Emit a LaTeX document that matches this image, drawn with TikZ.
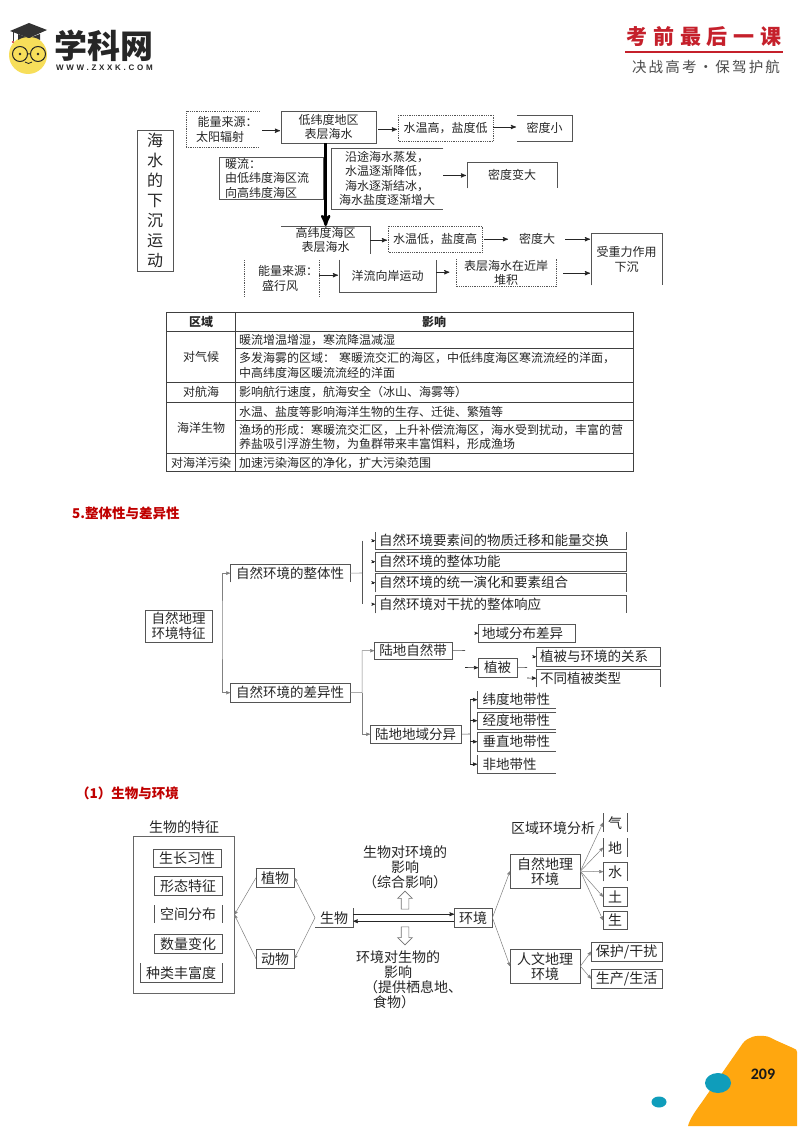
\documentclass[tikz,border=0pt]{standalone}
\usepackage{fontspec}
\setmainfont{Noto Sans CJK SC}
\newfontfamily\logofont[LetterSpace=34]{Liberation Sans}
\newfontfamily\redfont[LetterSpace=28]{Noto Sans CJK SC}
\newfontfamily\sloganfont[LetterSpace=15]{Noto Sans CJK SC}
\newfontfamily\pagefont{Carlito}
\usepackage{tikz}
\usetikzlibrary{shapes,shapes.arrows,arrows,positioning,calc}
\definecolor{inkcol}{HTML}{262626}
\definecolor{edgecol}{HTML}{555555}
\definecolor{redcol}{HTML}{C5202B}
\definecolor{headcol}{HTML}{C00000}
\definecolor{orangecol}{HTML}{FFA70F}
\definecolor{bluecol}{HTML}{0F9DBB}
\definecolor{facecol}{HTML}{F7DE5A}
\tikzset{
	cell/.style 2 args = {
		minimum width=#1,
		minimum height=#2,
		anchor=north west,
		inner sep=0pt,
		align=center,
		text=inkcol
	},
	edge/.style = {
		draw=edgecol,
		line width=0.8pt
	},
	dotedge/.style = {
		draw=edgecol,
		line width=0.8pt,
		densely dotted
	},
	signal/.style = {
		->,
		>=stealth',
		draw=black!85,
		line width=0.9pt,
		shorten >=1pt
	},
	link/.style = {
		->,
		>=stealth',
		draw=black!50,
		line width=0.5pt
	},
	plainlink/.style = {
		draw=black!45,
		line width=0.6pt
	},
	hollow/.style = {
		draw=black!55,
		fill=white,
		single arrow,
		minimum height=18pt,
		minimum width=14pt,
		single arrow head extend=3.5pt,
		inner sep=3.5pt,
		line width=0.6pt
	},
	tcell/.style = {
		anchor=west,
		inner sep=0pt,
		text=inkcol,
		font=\fontsize{12}{14}\selectfont
	},
	tlabel/.style = {
		inner sep=0pt,
		text=inkcol,
		font=\fontsize{12}{14}\selectfont
	},
	heading/.style = {
		anchor=west,
		inner sep=0pt,
		text=headcol,
		font=\fontsize{13.5}{15}\selectfont\bfseries
	},
	fonta/.style = {font=\fontsize{12}{14.5}\selectfont},
	fontb/.style = {font=\fontsize{13.5}{15}\selectfont},
	fontc/.style = {font=\fontsize{14}{15}\selectfont}
}
% boxes with one side (or two) left out
\newcommand{\opnbot}[2][edge]{\draw[#1] (#2.south west) |- (#2.north east) -- (#2.south east);}
\newcommand{\opntop}[2][edge]{\draw[#1] (#2.north west) |- (#2.south east) -- (#2.north east);}
\newcommand{\opnrgt}[2][edge]{\draw[#1] (#2.north east) -| (#2.south west) -- (#2.south east);}
\newcommand{\opnlft}[2][edge]{\draw[#1] (#2.north west) -| (#2.south east) -- (#2.south west);}
\newcommand{\sidesonly}[2][edge]{\draw[#1] (#2.north west) -- (#2.south west) (#2.north east) -- (#2.south east);}
\newcommand{\fullbox}[2][edge]{\draw[#1] (#2.north west) rectangle (#2.south east);}
\begin{document}
\begin{tikzpicture}[x=1pt, y=-1pt]
	\useasboundingbox (0,0) rectangle (800,1132);
	\fill[white] (0,0) rectangle (800,1132);

	% --- Cabecera ---
	\fill[facecol] (28,55) circle (19);
	\fill[black!80] (10,31) -- (29,23) -- (47,30) -- (29,38) -- cycle;
	\fill[black!80] (18,34) -- (18,40) .. controls (24,36) and (34,36) .. (40,40) -- (40,34) -- (29,38) -- cycle;
	\draw[black!80, line width=0.8pt] (13,31) -- (13,41);
	\fill[redcol] (13,42) circle (1.2);
	\draw[black!85, line width=1pt] (20,54) circle (7.5) (38,54) circle (7.5) (27.5,54) -- (30.5,54);
	\fill[black!85] (20,54) circle (1.4) (38,54) circle (1.4);
	\draw[black!85, line width=0.8pt] (25,62) .. controls (27,64) and (30,64) .. (32,62);
	\node[inner sep=0pt, font=\fontsize{33}{33}\selectfont\bfseries, text=black!85] (logoname) at (104,46) {学科网};
	\node[inner sep=0pt, font=\logofont\fontsize{8}{8}\selectfont\bfseries, text=black!85] (logourl) at (104.5,68) {WWW.ZXXK.COM};
	\node[inner sep=0pt, font=\redfont\fontsize{21}{21}\selectfont\bfseries, text=redcol] (headred) at (704,37) {考前最后一课};
	\coordinate (headl) at (625,52);
	\coordinate (headr) at (783,52);
	\draw[redcol, line width=1.4pt] (headl) -- (headr);
	\node[inner sep=0pt, font=\sloganfont\fontsize{14.5}{15}\selectfont, text=black!70] (headgray) at (706,67) {决战高考·保驾护航};

	% --- Hundimiento del agua ---
	\node[cell={36pt}{141pt}, font=\fontsize{16}{20}\selectfont] (sink) at (137,130) {海\\水\\的\\下\\沉\\运\\动};
	\fullbox{sink}
	\node[cell={73pt}{36pt}, fonta, text width=68pt, align=left] (solar) at (186,111) {\hspace*{9pt}能量来源：\\\hspace*{7.5pt}太阳辐射};
	\opnrgt[dotedge]{solar}
	\node[cell={95pt}{32pt}, fonta] (lowlat) at (281,111) {低纬度地区\\表层海水};
	\fullbox{lowlat}
	\node[cell={95pt}{26pt}, fonta] (warm) at (398,115) {水温高，盐度低};
	\fullbox[dotedge]{warm}
	\node[cell={55pt}{26pt}, fonta] (lowdens) at (517,115) {密度小};
	\draw[edge] (lowdens.north west) -- (lowdens.north east) -- (lowdens.south east) -- (lowdens.south west);
	\draw[signal] (solar.east) ++(3,1.5) coordinate (solarout) -- (solarout -| lowlat.west);
	\draw[signal] (lowlat.east) ++(2,2.2) coordinate (lowout) -- (lowout -| warm.west);
	\draw[signal] (warm.east) ++(0,-1.2) coordinate (warmout) -- (warmout -| lowdens.west);

	\node[cell={103.5pt}{42pt}, fonta, text width=91.5pt, align=left] (current) at (219,157) {暖流：\\由低纬度海区流\\向高纬度海区};
	\fullbox{current}
	\node[cell={112pt}{60.5pt}, fonta] (evap) at (331,148) {沿途海水蒸发，\\水温逐渐降低，\\海水逐渐结冰，\\海水盐度逐渐增大};
	\opnrgt{evap}
	\node[cell={90pt}{26pt}, fonta] (middens) at (467,162) {密度变大};
	\opnbot{middens}
	\draw[signal] (evap.east) ++(0,-3) coordinate (evapout) -- (evapout -| middens.west);

	\node[cell={89pt}{28pt}, fonta] (highlat) at (281,226) {高纬度海区\\表层海水};
	\draw[edge] (highlat.north west) -- (highlat.north east) -- (highlat.south east);
	\node[cell={94pt}{26pt}, fonta] (cold) at (388,226) {水温低，盐度高};
	\fullbox[dotedge]{cold}
	\node[cell={56pt}{26pt}, fonta] (highdens) at (509,226) {密度大};
	\node[cell={71pt}{52pt}, fonta] (gravity) at (591,233) {受重力作用\\下沉};
	\opnbot{gravity}
	\draw[line width=2.6pt, ->, >=stealth', draw=black] (lowlat.south -| highlat.north) -- (highlat.north);
	\draw[signal] (highlat.east) -- (highlat.east -| cold.west);
	\draw[signal] (cold.east) ++(2,0) coordinate (coldout) -- (coldout -| highdens.west);
	\draw[signal] (highdens.east) -- (highdens.east -| gravity.west);

	\node[cell={75pt}{36pt}, fonta, text width=68pt, align=left] (wind) at (244,260) {\hspace*{10.5pt}能量来源：\\\hspace*{14.5pt}盛行风};
	\sidesonly[dotedge]{wind}
	\node[cell={97pt}{32pt}, fonta] (ocean) at (339,259.5) {洋流向岸运动};
	\draw[edge] (ocean.north west) |- (ocean.south east) -- (ocean.north east);
	\node[cell={100pt}{27pt}, fonta] (pile) at (456,259) {表层海水在近岸\\堆积};
	\opntop[dotedge]{pile}
	\draw[signal] (wind.east) ++(0,-3) coordinate (windout) -- (windout -| ocean.west);
	\draw[signal] (ocean.east) ++(0,-3.5) coordinate (oceanout) -- ++(14,0);
	\draw[signal] (pile.east) ++(7,0.5) coordinate (pileout) -- (pileout -| gravity.west);

	% --- Tabla ---
	\draw[black!75, line width=0.7pt] (166,312) rectangle (633,471);
	\draw[black!75, line width=0.7pt] (235,312) -- (235,471);
	\foreach \rowy in {331,382,402,453}
		\draw[black!75, line width=0.7pt] (166,\rowy) -- (633,\rowy);
	\foreach \rowy in {348,420}
		\draw[black!75, line width=0.7pt] (235,\rowy) -- (633,\rowy);
	\node[tlabel, font=\fontsize{12}{14}\selectfont\bfseries] (zone) at (201,322) {区域};
	\node[tlabel, font=\fontsize{12}{14}\selectfont\bfseries] (effect) at (434,322) {影响};
	\node[tlabel] (climate) at (201,357) {对气候};
	\node[tlabel] (navi) at (201,392) {对航海};
	\node[tlabel] (marine) at (201,428) {海洋生物};
	\node[tlabel] (pollute) at (201,463) {对海洋污染};
	\node[tcell] (t1) at (239,340) {暖流增温增湿，寒流降温减湿};
	\node[tcell] (t2) at (239,358) {多发海雾的区域：\hspace{4pt}寒暖流交汇的海区，中低纬度海区寒流流经的洋面，};
	\node[tcell] (t3) at (239,373) {中高纬度海区暖流流经的洋面};
	\node[tcell] (t4) at (239,392) {影响航行速度，航海安全（冰山、海雾等）};
	\node[tcell] (t5) at (239,412) {水温、盐度等影响海洋生物的生存、迁徙、繁殖等};
	\node[tcell] (t6) at (239,430) {渔场的形成：寒暖流交汇区，上升补偿流海区，海水受到扰动，丰富的营};
	\node[tcell] (t7) at (239,444) {养盐吸引浮游生物，为鱼群带来丰富饵料，形成渔场};
	\node[tcell] (t8) at (239,463) {加速污染海区的净化，扩大污染范围};

	% --- Seccion 5 ---
	\node[heading] (head5) at (72,513) {5.整体性与差异性};
	\node[cell={67pt}{32pt}, fontb] (root) at (145,610) {自然地理\\环境特征};
	\fullbox{root}
	\node[cell={120pt}{18pt}, fontb] (whole) at (230,564) {自然环境的整体性};
	\opnbot{whole}
	\node[cell={120pt}{19pt}, fontb] (diff) at (230,683) {自然环境的差异性};
	\fullbox{diff}
	\coordinate (trunk) at (222,627);
	\draw[link, <->] (whole.west) -| (trunk) |- (diff.west);

	\node[cell={251pt}{17pt}, fontb, text width=243pt, align=left] (w1) at (375,532) {自然环境要素间的物质迁移和能量交换};
	\opntop{w1}
	\node[cell={251pt}{19pt}, fontb, text width=243pt, align=left] (w2) at (375,552) {自然环境的整体功能};
	\fullbox{w2}
	\node[cell={251pt}{19pt}, fontb, text width=243pt, align=left] (w3) at (375,573) {自然环境的统一演化和要素组合};
	\opnbot{w3}
	\node[cell={251pt}{18pt}, fontb, text width=243pt, align=left] (w4) at (375,595) {自然环境对干扰的整体响应};
	\opnbot{w4}
	\coordinate (wbus) at (362,573);
	\draw[plainlink] (whole.east) -- (wbus);
	\draw[edge, line width=0.6pt] (wbus |- w1.west) -- (wbus |- w4.west);
	\foreach \wname in {w1,w2,w3,w4}
		\draw[signal, line width=0.4pt, shorten >=0pt] ([xshift=-2pt]\wname.west) -- (\wname.west);

	\node[cell={78pt}{17pt}, fontb] (belt) at (374,642) {陆地自然带};
	\fullbox{belt}
	\node[cell={97pt}{18pt}, fontb, text width=89pt, align=left] (spread) at (478,624) {地域分布差异};
	\fullbox{spread}
	\node[cell={39pt}{19pt}, fontb] (veg) at (478,658) {植被};
	\fullbox{veg}
	\node[cell={124pt}{19pt}, fontb, text width=116pt, align=left] (vega) at (536,647) {植被与环境的关系};
	\fullbox{vega}
	\node[cell={124pt}{18pt}, fontb, text width=116pt, align=left] (vegb) at (536,669) {不同植被类型};
	\opnbot{vegb}
	\coordinate (beltout) at (465,650.5);
	\coordinate (vegin) at (465,667.5);
	\coordinate (vegout) at (527,667.5);
	\coordinate (vegbin) at (527,678);
	\draw[edge, line width=0.6pt] (belt.east) -- (beltout);
	\draw[signal, line width=0.6pt, shorten >=0pt] (vegin) -- (veg.west);
	\draw[edge, line width=0.6pt] (veg.east) -- (vegout);
	\draw[signal, line width=0.4pt, shorten >=0pt] ([xshift=-3pt]spread.west) -- (spread.west);
	\draw[signal, line width=0.4pt, shorten >=0pt] ([xshift=-3pt]vega.west) -- (vega.west);
	\draw[signal, line width=0.6pt, shorten >=0pt] (vegbin) -- (vegb.west);

	\node[cell={91pt}{18pt}, fontb] (split) at (370,725) {陆地地域分异};
	\fullbox{split}
	\coordinate (splitbus) at (362,692.5);
	\draw[link] (diff.east) -- (splitbus) |- (belt.west);
	\draw[link] (splitbus) |- (split.west);
	\node[cell={79pt}{17pt}, fontb, text width=68pt, align=left] (lat) at (477,691) {纬度地带性};
	\draw[edge] (lat.north west) |- (lat.south east);
	\node[cell={79pt}{17pt}, fontb, text width=68pt, align=left] (lon) at (477,712) {经度地带性};
	\draw[edge] (lon.north east) -| (lon.south west) -- (lon.south east);
	\node[cell={79pt}{19pt}, fontb, text width=68pt, align=left] (vert) at (477,732) {垂直地带性};
	\draw[edge] (vert.north east) -| (vert.south west) -- (vert.south east);
	\node[cell={79pt}{18pt}, fontb, text width=68pt, align=left] (azon) at (477,755) {非地带性};
	\draw[edge] (azon.north west) |- (azon.south east);
	\coordinate (latbus) at (470,734);
	\draw[edge, line width=0.6pt] (split.east) -- (latbus);
	\draw[edge, line width=0.6pt] (latbus |- lat.west) -- (latbus |- azon.west);
	\foreach \lname in {lat,lon,vert,azon}
		\draw[signal, line width=0.6pt, shorten >=0pt] (latbus |- \lname.west) -- (\lname.west);

	% --- Seccion (1) ---
	\node[heading] (head1) at (76,793) {（1）生物与环境};
	\node[inner sep=0pt, text=inkcol, fontc] (traits) at (184,827) {生物的特征};
	\node[cell={101pt}{157pt}] (traitbox) at (133,836) {};
	\draw[draw=black!60, line width=0.8pt] (traitbox.north west) rectangle (traitbox.south east);
	\node[cell={68pt}{18pt}, fontc] (habit) at (153,849) {生长习性};
	\fullbox{habit}
	\node[cell={68pt}{19pt}, fontc] (form) at (154,876) {形态特征};
	\fullbox{form}
	\node[cell={68pt}{18pt}, fontc] (space) at (154,905) {空间分布};
	\sidesonly{space}
	\node[cell={68pt}{19pt}, fontc] (count) at (154,934) {数量变化};
	\fullbox{count}
	\node[cell={82pt}{19pt}, fontc] (species) at (140,963) {种类丰富度};
	\opntop{species}
	\node[cell={38pt}{19pt}, fontc] (plant) at (256,868) {植物};
	\fullbox{plant}
	\node[cell={38pt}{19pt}, fontc] (animal) at (256,949) {动物};
	\fullbox{animal}
	\node[cell={38pt}{19pt}, fontc] (bio) at (315,908) {生物};
	\draw[edge] (bio.south west) -- (bio.south east) -- (bio.north east);
	\node[cell={38pt}{19pt}, fontc] (env) at (454,908) {环境};
	\fullbox{env}
	\draw[link] (bio.west) -- (plant.east);
	\draw[link] (bio.west) -- (animal.east);
	\draw[link] (plant.west) -- (traitbox.east);
	\draw[link] (animal.west) -- (traitbox.east);
	\draw[signal, line width=0.7pt, shorten >=0pt] ([yshift=3.5pt]bio.east) -- ([yshift=3.5pt]env.west);
	\draw[signal, line width=0.7pt, shorten >=0pt] ([yshift=-3.5pt]env.west) -- ([yshift=-3.5pt]bio.east);
	\node[inner sep=0pt, text=inkcol, fontc, align=center] (bioenv) at (405,867) {生物对环境的\\影响\\（综合影响）};
	\node[hollow, shape border rotate=90] (uparrow) at (405,902) {};
	\node[hollow, shape border rotate=270] (downarrow) at (405,934) {};
	\node[inner sep=0pt, text=inkcol, fontc, align=center] (envbio) at (398,979.5) {环境对生物的\\影响\\\hspace*{30pt}（提供栖息地、\\\hspace*{-8pt}食物）};

	\node[inner sep=0pt, text=inkcol, fontc] (region) at (553,828) {区域环境分析};
	\node[cell={70pt}{34pt}, fontc] (natenv) at (510,854) {自然地理\\环境};
	\fullbox{natenv}
	\node[cell={70pt}{34pt}, fontc] (humenv) at (510,949) {人文地理\\环境};
	\fullbox{humenv}
	\draw[link] (env.east) -- (natenv.west);
	\draw[link] (env.east) -- (humenv.west);
	\node[cell={24pt}{19pt}, fontc] (qi) at (603,813) {气};
	\sidesonly{qi}
	\node[cell={24pt}{19pt}, fontc] (di) at (603,838) {地};
	\sidesonly{di}
	\node[cell={24pt}{19pt}, fontc] (shui) at (603,862) {水};
	\opnbot{shui}
	\node[cell={24pt}{19pt}, fontc] (tu) at (603,887) {土};
	\fullbox{tu}
	\node[cell={24pt}{18pt}, fontc] (sheng) at (603,911) {生};
	\fullbox{sheng}
	\foreach \ename in {qi,di,shui,tu,sheng}
		\draw[link] (natenv.east) -- (\ename.west);
	\node[cell={71pt}{19pt}, fontc] (protect) at (591,942) {保护/干扰};
	\fullbox{protect}
	\node[cell={71pt}{19pt}, fontc] (prod) at (591,969) {生产/生活};
	\fullbox{prod}
	\draw[link] (humenv.east) -- (protect.west);
	\draw[link] (humenv.east) -- (prod.west);

	% --- Pie de pagina ---
	\fill[orangecol] (688,1126) .. controls (690,1118) and (697,1109) .. (702,1102) -- (743,1043) .. controls (748,1037) and (756,1035) .. (764,1036) .. controls (768,1036) and (771,1038) .. (775,1040) -- (793,1048) .. controls (796,1049) and (797,1050) .. (797,1052) -- (797,1126) -- cycle;
	\fill[bluecol] (718,1083) ellipse (13 and 10);
	\fill[bluecol] (659,1102) ellipse (7.5 and 5.5);
	\node[inner sep=0pt, font=\pagefont\fontsize{16}{16}\selectfont\bfseries, text=black!90] (pagenum) at (763,1074) {209};
\end{tikzpicture}
\end{document}
